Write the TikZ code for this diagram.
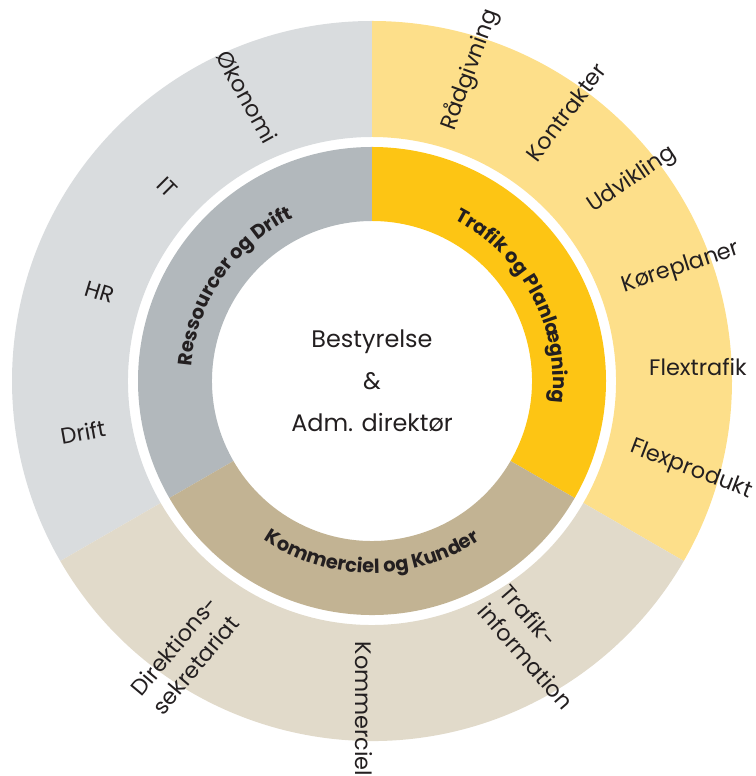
\documentclass[tikz,border=0pt]{standalone}
\usepackage{fontspec}
\setmainfont{Poppins}
\usetikzlibrary{decorations.text}
\definecolor{greyout}{HTML}{D9DCDE}
\definecolor{yellowout}{HTML}{FDDF8A}
\definecolor{beigeout}{HTML}{E1DACA}
\definecolor{greyin}{HTML}{B2B8BC}
\definecolor{yellowin}{HTML}{FDC514}
\definecolor{beigein}{HTML}{C2B393}
\definecolor{ink}{HTML}{231F20}
\tikzset{
  unit/.style={text=ink, inner sep=0pt, font=\fontsize{22.5}{29}\selectfont},
  board/.style={text=ink, inner sep=0pt, align=center, font=\fontsize{24}{42}\selectfont},
  division/.style={decorate, decoration={text along path, text align=center,
      text={|\color{ink}\fontsize{19.5}{22}\selectfont\bfseries|#1}}}
}
\begin{document}
\begin{tikzpicture}[x=1bp,y=1bp]
\useasboundingbox (0,0) rectangle (756,776);
\begin{scope}[shift={(372,395)}]
% outer ring
\fill[greyout] (90:244) -- (90:360) arc[start angle=90,end angle=210,radius=360] -- (210:244) arc[start angle=210,end angle=90,radius=244] -- cycle;
\fill[yellowout] (90:244) -- (90:360) arc[start angle=90,end angle=-30,radius=360] -- (-30:244) arc[start angle=-30,end angle=90,radius=244] -- cycle;
\fill[beigeout] (210:244) -- (210:360) arc[start angle=210,end angle=330,radius=360] -- (330:244) arc[start angle=330,end angle=210,radius=244] -- cycle;
% inner ring
\fill[greyin] (90:160) -- (90:234) arc[start angle=90,end angle=210,radius=234] -- (210:160) arc[start angle=210,end angle=90,radius=160] -- cycle;
\fill[yellowin] (90:160) -- (90:234) arc[start angle=90,end angle=-30,radius=234] -- (-30:160) arc[start angle=-30,end angle=90,radius=160] -- cycle;
\fill[beigein] (210:160) -- (210:234) arc[start angle=210,end angle=330,radius=234] -- (330:160) arc[start angle=330,end angle=210,radius=160] -- cycle;

\node[board] (top) at (0,0) {Bestyrelse\\\&\\Adm. direktør};

\path[division={Ressourcer og Drift}] (200:181) arc[start angle=200,end angle=91,radius=181];
\path[division={Trafik og Planlægning}] (88:181) arc[start angle=88,end angle=-32,radius=181];
\path[division={Kommerciel og Kunder}] (210:192) arc[start angle=210,end angle=330,radius=192];

\node[unit,rotate=70] (raad) at (98,311) {Rådgivning};
\node[unit,rotate=53] (kontr) at (194,269) {Kontrakter};
\node[unit,rotate=34] (udv) at (260,201) {Udvikling};
\node[unit,rotate=18] (koer) at (309,113) {Køreplaner};
\node[unit] (flext) at (326,14) {Flextrafik};
\node[unit,rotate=-21] (flexp) at (319,-89) {Flexprodukt};
\node[unit,rotate=-61] (oek) at (-125,284) {Økonomi};
\node[unit,rotate=-45] (it) at (-205,194) {IT};
\node[unit,rotate=-17] (hr) at (-272,89) {HR};
\node[unit,rotate=10] (drift) at (-289,-51) {Drift};
\node[unit,rotate=50,align=left] (dir) at (-187,-274) {Direktions-\\sekretariat};
\node[unit,rotate=-90] (komm) at (-8,-328) {Kommerciel};
\node[unit,rotate=-49,align=left] (tinfo) at (165,-266) {Trafik-\\information};
\end{scope}
\end{tikzpicture}
\end{document}
